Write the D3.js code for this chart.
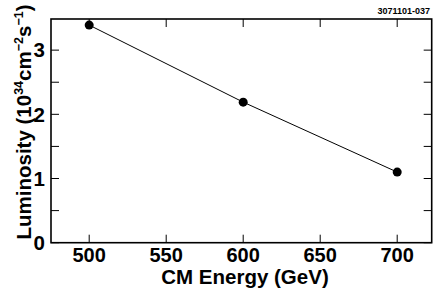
<!DOCTYPE html>
<html><head><meta charset="utf-8">
<script src="https://cdn.jsdelivr.net/npm/d3@7"></script>
<style>body{margin:0;background:#fff}svg{display:block}text{font-family:"Liberation Sans",Arial,sans-serif;font-weight:bold;fill:#000}</style>
</head><body>
<script>
const energies = [500, 600, 700];
const luminosity = [3.39, 2.19, 1.10];
const xTicks = [500, 550, 600, 650, 700];
const yTicks = [0, 1, 2, 3];
const yMinorTicks = [0.5, 1.5, 2.5];

const W = 436, H = 292;
const m = {l: 51, r: 4.3, t: 19, b: 49.3};
const svg = d3.select("body").append("svg").attr("width", W).attr("height", H);
const x = d3.scaleLinear().domain([475.2, 722.4]).range([m.l, W - m.r]);
const y = d3.scaleLinear().domain([0, 3.485]).range([H - m.b, m.t]);

const g = svg.append("g");
const tickLen = 8;
xTicks.forEach(v => {
  g.append("line").attr("x1", x(v)).attr("x2", x(v)).attr("y1", y.range()[0]).attr("y2", y.range()[0] - tickLen).attr("stroke", "#000").attr("stroke-width", 1);
  g.append("line").attr("x1", x(v)).attr("x2", x(v)).attr("y1", m.t).attr("y2", m.t + tickLen).attr("stroke", "#000").attr("stroke-width", 1);
});
yTicks.concat(yMinorTicks).forEach(v => {
  g.append("line").attr("x1", m.l).attr("x2", m.l + tickLen).attr("y1", y(v)).attr("y2", y(v)).attr("stroke", "#000").attr("stroke-width", 1);
  g.append("line").attr("x1", W - m.r).attr("x2", W - m.r - tickLen).attr("y1", y(v)).attr("y2", y(v)).attr("stroke", "#000").attr("stroke-width", 1);
});
g.append("rect").attr("x", m.l).attr("y", m.t).attr("width", W - m.r - m.l).attr("height", H - m.b - m.t)
  .attr("fill", "none").attr("stroke", "#000").attr("stroke-width", 1.6);

xTicks.forEach(v => g.append("text").attr("x", x(v)).attr("y", 261.8).attr("text-anchor", "middle").attr("font-size", 20).text(v));
yTicks.forEach(v => g.append("text").attr("x", 45).attr("y", y(v) + 7.2).attr("text-anchor", "end").attr("font-size", 20.5).text(v));

g.append("text").attr("x", 245).attr("y", 283.5).attr("text-anchor", "middle").attr("font-size", 20.5).text("CM Energy (GeV)");
const yl = g.append("text").attr("transform", "translate(30.5,239.5) rotate(-90)").attr("text-anchor", "start").attr("font-size", 20.5);
yl.append("tspan").text("Luminosity (10");
yl.append("tspan").attr("font-size", 12.5).attr("dy", -8).text("34");
yl.append("tspan").attr("dy", 8).text("cm");
yl.append("tspan").attr("font-size", 12.5).attr("dy", -8).text("\u22122");
yl.append("tspan").attr("dy", 8).text("s");
yl.append("tspan").attr("font-size", 12.5).attr("dy", -8).text("\u22121");
yl.append("tspan").attr("dy", 8).text(")");

g.append("text").attr("x", 430).attr("y", 14).attr("text-anchor", "end").attr("font-size", 9).text("3071101-037");

const data = energies.map((e, i) => ({e, l: luminosity[i]}));
g.append("path").datum(data).attr("fill", "none").attr("stroke", "#000").attr("stroke-width", 1)
  .attr("d", d3.line().x(d => x(d.e)).y(d => y(d.l)));
g.selectAll("circle").data(data).join("circle").attr("cx", d => x(d.e)).attr("cy", d => y(d.l)).attr("r", 4.5).attr("fill", "#000");
</script>
</body></html>
